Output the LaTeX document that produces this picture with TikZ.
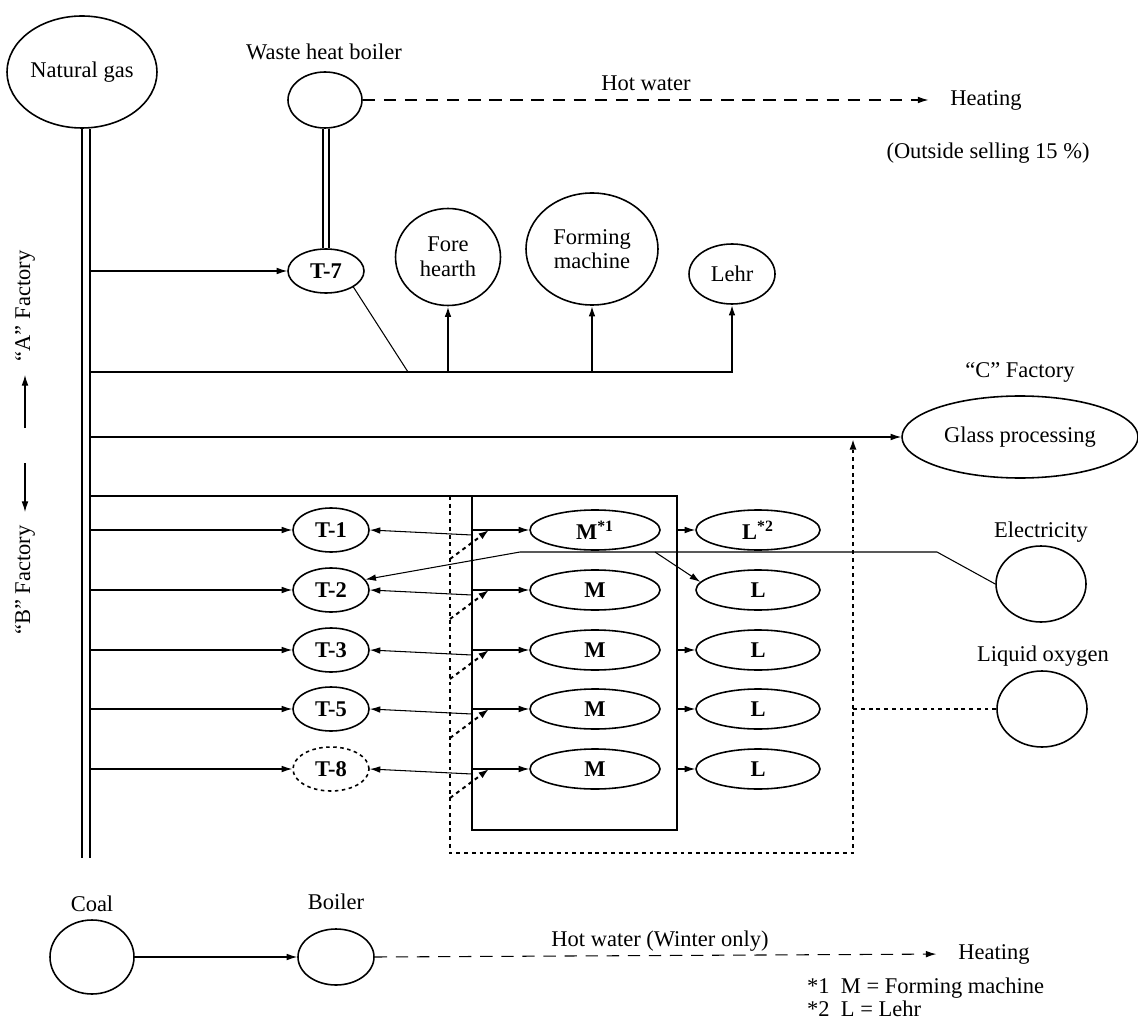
\documentclass[tikz,border=0pt]{standalone}
\usepackage{fontspec}
\setmainfont{Liberation Serif}
\usetikzlibrary{shapes.geometric, arrows.meta, calc, positioning}
\newdimen\pxu \pxu=0.02cm
\newcommand{\lblfont}{\fontsize{12.8}{14}\selectfont}

\begin{document}
\begin{tikzpicture}[x=0.02cm, y=-0.02cm, font=\lblfont,
  ell/.style={draw, ellipse, inner sep=0pt, line width=0.9pt, align=center},
  tank/.style={ell, minimum width=76\pxu, minimum height=44\pxu, font=\lblfont\bfseries},
  tankoff/.style={dash pattern=on 2pt off 2pt},
  mach/.style={ell, minimum width=130\pxu, minimum height=40\pxu, font=\lblfont\bfseries},
  lehrbox/.style={ell, minimum width=124\pxu, minimum height=40\pxu, font=\lblfont\bfseries},
  feed/.style={-{Latex[length=6pt,width=3.8pt]}, line width=0.6pt},
  hot/.style={feed, dash pattern=on 7pt off 5pt, shorten >=9pt},
  dots/.style={line width=1.1pt, dash pattern=on 2.2pt off 2.2pt},
  pipe/.style={double, double distance=3pt, line width=1.2pt}
]
  \useasboundingbox (0,0) rectangle (1138,1023);

  % gas main
  \node[ell, minimum width=150\pxu, minimum height=112\pxu] (gas) at (82,72) {Natural gas};
  \coordinate (pipe) at (91,0);
  \coordinate (gasend) at (86,858);
  \draw[pipe] (gas.south -| gasend) -- (gasend);

  % "A" factory
  \node (whblbl) at (324,52) {Waste heat boiler};
  \node[ell, minimum width=74\pxu, minimum height=56\pxu] (whb) at (325,100) {};
  \node (hw1) at (646,83) {Hot water};
  \node (heat1) at (986,100) {Heating};
  \node (sell) at (988,153) {(Outside selling 15~\%)};
  \draw[hot] (whb.east) -- (heat1.west);

  \node[tank] (t7) at (326,271) {T-7};
  \draw[pipe, double distance=2.2pt, line width=1.1pt] (whb.south -| t7) -- (t7.north);
  \draw[feed] (t7 -| pipe) -- (t7.west);

  \node[ell, minimum width=105\pxu, minimum height=97\pxu] (fore) at (448,257) {Fore\\hearth};
  \node[ell, minimum width=132\pxu, minimum height=112\pxu] (form) at (592,249) {Forming\\machine};
  \node[ell, minimum width=86\pxu, minimum height=60\pxu] (lehr) at (732,274) {Lehr};

  \coordinate (abus) at (91,372);
  \coordinate (aend) at (733,372);
  \coordinate (ajoin) at (408,372);
  \draw[line width=0.6pt] (abus) -- (aend);
  \draw[line width=0.6pt] (t7.south east) -- (ajoin);
  \foreach \u in {fore, form, lehr}
    \draw[feed, line width=1.1pt] (\u.south |- abus) -- (\u.south);

  % factory labels
  \node[rotate=90] (afac) at (25,306) {``A'' Factory};
  \node[rotate=90] (bfac) at (25,580) {``B'' Factory};
  \coordinate (ab1) at (25,428);
  \coordinate (ab2) at (25,375);
  \coordinate (ab3) at (25,463);
  \coordinate (ab4) at (25,512);
  \draw[feed] (ab1) -- (ab2);
  \draw[feed] (ab3) -- (ab4);

  % "C" factory
  \node (cfac) at (1020,372) {``C'' Factory};
  \node[ell, minimum width=236\pxu, minimum height=82\pxu] (glass) at (1020,437) {Glass processing};
  \draw[feed] (glass -| pipe) -- (glass.west);

  % "B" factory boxes
  \coordinate (bx1) at (472,496);
  \coordinate (bx2) at (677,830);
  \coordinate (dx1) at (450,496);
  \coordinate (dx2) at (853,853);
  \draw[line width=0.6pt] (bx1 -| pipe) -- (bx1);
  \draw[line width=1.1pt] (bx1) rectangle (bx2);
  \draw[dots, -{Latex[length=6pt,width=4pt]}] (dx1) -- (dx1 |- dx2) -- (dx2) -- ($(glass.west -| dx2)+(0,2)$);

  \foreach \n/\y/\s/\mm/\ll [count=\i] in {1/530/solid/M\textsuperscript{*1}/L\textsuperscript{*2},
      2/590/solid/M/L, 3/650/solid/M/L, 5/709/solid/M/L, 8/769/tankoff/M/L} {
    \node[tank, \s] (t\n) at (331,\y) {T-\n};
    \node[mach] (m\i) at (595,\y) {\mm};
    \node[lehrbox] (l\i) at (758,\y) {\ll};
    \draw[feed] (t\n -| pipe) -- (t\n.west);
    \draw[feed] ($(t\n -| bx1)+(0,5)$) -- (t\n.east);
    \draw[feed] (m\i -| bx1) -- (m\i.west);
    \draw[dots, -{Latex[length=6pt,width=4pt]}] ($(m\i -| dx1)+(0,29)$) -- ($(m\i -| bx1)+(17,0)$);
    \ifnum\i=2\relax\else
      \draw[feed] (l\i -| bx2) -- (l\i.west);
    \fi
  }

  % electricity and oxygen
  \node (eleclbl) at (1041,532) {Electricity};
  \node[ell, minimum width=90\pxu, minimum height=76\pxu] (elec) at (1041,584) {};
  \coordinate (e1) at (937,552);
  \coordinate (e2) at (520,552);
  \coordinate (e3) at (655,552);
  \draw[feed] (elec.west) -- (e1) -- (e2) -- (t2.17);
  \draw[feed] (e3) -- (l2.172);

  \node (oxylbl) at (1043,656) {Liquid oxygen};
  \node[ell, minimum width=90\pxu, minimum height=76\pxu] (oxy) at (1042,709) {};
  \draw[dots] (oxy.west) -- (oxy.west -| dx2);

  % coal
  \node (coallbl) at (92,904) {Coal};
  \node[ell, minimum width=84\pxu, minimum height=74\pxu] (coal) at (92,957) {};
  \node (boillbl) at (336,902) {Boiler};
  \node[ell, minimum width=76\pxu, minimum height=56\pxu] (boil) at (336,957) {};
  \draw[feed] (coal) -- (boil);
  \node (hw2) at (660,941) {Hot water (Winter only)};
  \node (heat2) at (994,954) {Heating};
  \draw[hot] (boil.east) -- (heat2.west);

  \node[anchor=west] (fn1) at (801,988) {*1\ \ M = Forming machine};
  \node[anchor=west] (fn2) at (801,1009) {*2\ \ L = Lehr};
\end{tikzpicture}
\end{document}
